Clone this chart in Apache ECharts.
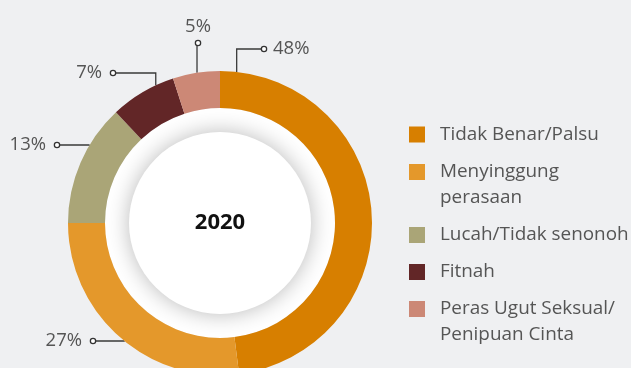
<!DOCTYPE html>
<html>
<head>
<meta charset="utf-8">
<script src="https://cdn.jsdelivr.net/npm/echarts@6/dist/echarts.min.js"></script>
<style>
  html, body { margin: 0; padding: 0; background: #eff0f2; }
  #chart { width: 631px; height: 368px; }
</style>
</head>
<body>
<div id="chart"></div>
<script>
// Categories of reported content and their share (%) for the year
const year = '2020';
const categories = [
  'Tidak Benar/Palsu',
  'Menyinggung\nperasaan',
  'Lucah/Tidak senonoh',
  'Fitnah',
  'Peras Ugut Seksual/\nPenipuan Cinta'
];
const shares = [48, 27, 13, 7, 5];
const colors = ['#d77f00', '#e4982b', '#aaa577', '#622627', '#cc8876'];

// Ring geometry (px)
const CX = 220, CY = 223;
const R_IN = 115, R_OUT = 152, R_CORE = 91;
const FONT = '"Open Sans", "Noto Sans", sans-serif';

// Leader lines: anchor on the outer rim (degrees clockwise from 12 o'clock),
// end point of the line, and which side of the end point the text sits on.
const leaders = [
  { angle: 6.3,   end: [264, 49],  side: 'right' },
  { angle: 219.1, end: [93, 341],  side: 'left' },
  { angle: 300.9, end: [57, 145],  side: 'left' },
  { angle: 335,   end: [113, 73],  side: 'left' },
  { angle: 351.3, end: [198, 43],  side: 'top' }
];

// Legend: one block per category, stacked down the right side
const LEGEND_LEFT = 409;
const legendTops = [121.5, 133, 222, 259, 270];

const chart = echarts.init(document.getElementById('chart'), null, { renderer: 'canvas' });

const textToken = { fontFamily: FONT, fontSize: 18.5, color: '#555', lineHeight: 22, verticalAlign: 'middle' };

chart.setOption({
  backgroundColor: '#eff0f2',
  animation: false,
  color: colors,
  legend: categories.map((n, i) => ({
    orient: 'vertical',
    left: LEGEND_LEFT,
    top: legendTops[i],
    padding: 0,
    itemWidth: 16,
    itemHeight: 16,
    icon: 'rect',
    selectedMode: false,
    // a leading empty line keeps the first line of a two-line name level with its swatch
    formatter: name => (name.indexOf('\n') >= 0 ? '\n' + name : name),
    textStyle: { fontFamily: FONT, fontSize: 18.9, color: '#555', lineHeight: 26, padding: [0, 0, 0, 10] },
    data: [n]
  })),
  series: [
    {
      // white disc filling the hole of the ring
      type: 'pie',
      center: [CX, CY],
      radius: [0, R_IN],
      silent: true,
      z: 1,
      label: { show: false },
      labelLine: { show: false },
      itemStyle: { color: '#ffffff', borderWidth: 0 },
      data: [{ value: 1, name: 'disc' }]
    },
    {
      // raised centre with the year
      type: 'pie',
      center: [CX, CY],
      radius: [0, R_CORE],
      silent: true,
      z: 2,
      itemStyle: { color: '#ffffff', borderWidth: 0, shadowBlur: 22, shadowColor: 'rgba(0,0,0,0.28)' },
      label: {
        show: true,
        position: 'center',
        formatter: year,
        fontFamily: FONT,
        fontSize: 22,
        fontWeight: 'bold',
        color: '#111'
      },
      labelLine: { show: false },
      data: [{ value: 1, name: 'core' }]
    },
    {
      type: 'pie',
      center: [CX, CY],
      radius: [R_IN, R_OUT],
      startAngle: 90,
      clockwise: true,
      z: 3,
      avoidLabelOverlap: false,
      emphasis: { scale: false },
      itemStyle: { borderWidth: 0 },
      data: categories.map((n, i) => ({ name: n, value: shares[i] })),
      label: {
        show: true,
        position: 'outside',
        formatter: p => {
          const s = leaders[p.dataIndex].side;
          const v = shares[p.dataIndex] + '%';
          if (s === 'right') return '{d|}{tr|' + v + '}';
          if (s === 'left') return '{tl|' + v + '}{d|}';
          return '{tt|' + v + '}\n{d|}';
        },
        rich: {
          tr: Object.assign({ padding: [0, 0, 0, 7] }, textToken),
          tl: Object.assign({ padding: [0, 9, 0, 0] }, textToken),
          tt: Object.assign({}, textToken),
          d: {
            width: 4, height: 4, lineHeight: 10,
            borderRadius: 3, borderWidth: 1.3, borderColor: '#333',
            backgroundColor: '#fff', verticalAlign: 'middle'
          }
        }
      },
      labelLine: { show: true, smooth: false, lineStyle: { color: '#3a3a3a', width: 1.3 } },
      labelLayout: params => {
        const L = leaders[params.dataIndex];
        const a = L.angle * Math.PI / 180;
        const A = [CX + R_OUT * Math.sin(a), CY - R_OUT * Math.cos(a)];
        const E = L.end;
        const pts = [A, [A[0], E[1]], E];
        if (L.side === 'right') {
          return { x: E[0] - 2, y: E[1], align: 'left', verticalAlign: 'middle', labelLinePoints: pts };
        }
        if (L.side === 'left') {
          return { x: E[0] + 2, y: E[1], align: 'right', verticalAlign: 'middle', labelLinePoints: pts };
        }
        return { x: E[0], y: E[1] + 5, align: 'center', verticalAlign: 'bottom', labelLinePoints: pts };
      }
    }
  ]
});
</script>
</body>
</html>
